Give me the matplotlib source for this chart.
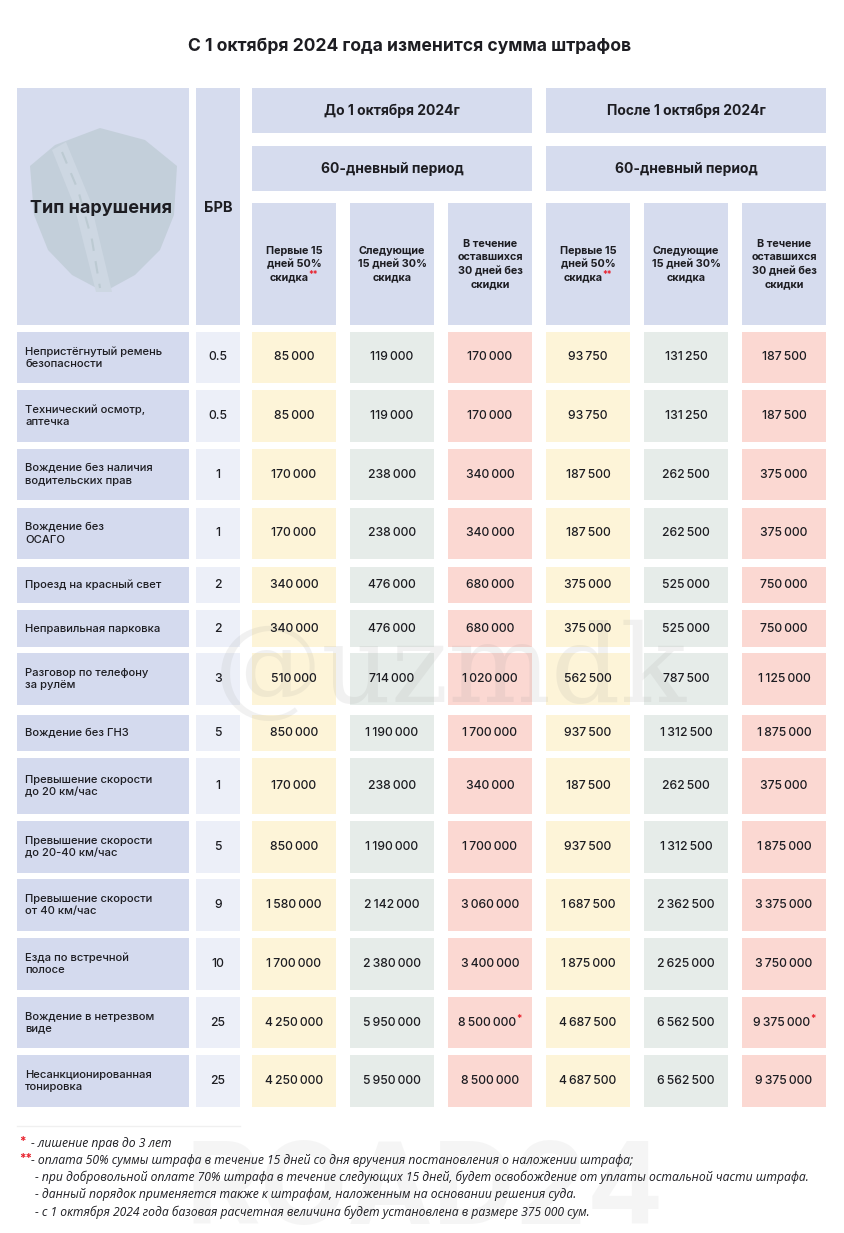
import matplotlib.pyplot as plt
from matplotlib.patches import Rectangle, Polygon

plt.rcParams['font.family'] = ['Inter', 'DejaVu Sans']

# ---- data ----
violations = [
    "Непристёгнутый ремень\nбезопасности",
    "Технический осмотр,\nаптечка",
    "Вождение без наличия\nводительских прав",
    "Вождение без\nОСАГО",
    "Проезд на красный свет",
    "Неправильная парковка",
    "Разговор по телефону\nза рулём",
    "Вождение без ГНЗ",
    "Превышение скорости\nдо 20 км/час",
    "Превышение скорости\nдо 20-40 км/час",
    "Превышение скорости\nот 40 км/час",
    "Езда по встречной\nполосе",
    "Вождение в нетрезвом\nвиде",
    "Несанкционированная\nтонировка",
]
brv = ["0.5", "0.5", "1", "1", "2", "2", "3", "5", "1", "5", "9", "10", "25", "25"]

before_15 = [85000, 85000, 170000, 170000, 340000, 340000, 510000, 850000,
             170000, 850000, 1580000, 1700000, 4250000, 4250000]
before_30 = [119000, 119000, 238000, 238000, 476000, 476000, 714000, 1190000,
             238000, 1190000, 2142000, 2380000, 5950000, 5950000]
before_full = [170000, 170000, 340000, 340000, 680000, 680000, 1020000, 1700000,
               340000, 1700000, 3060000, 3400000, 8500000, 8500000]
after_15 = [93750, 93750, 187500, 187500, 375000, 375000, 562500, 937500,
            187500, 937500, 1687500, 1875000, 4687500, 4687500]
after_30 = [131250, 131250, 262500, 262500, 525000, 525000, 787500, 1312500,
            262500, 1312500, 2362500, 2625000, 6562500, 6562500]
after_full = [187500, 187500, 375000, 375000, 750000, 750000, 1125000, 1875000,
              375000, 1875000, 3375000, 3750000, 9375000, 9375000]
# rows where the full fine carries the "*" mark (licence suspension)
starred = [False] * 12 + [True, False]

title = "С 1 октября 2024 года изменится сумма штрафов"
period_labels = ["До 1 октября 2024г", "После 1 октября 2024г"]
period_sub = "60-дневный период"
sub_labels = ["Первые 15\nдней 50%\nскидка", "Следующие\n15 дней 30%\nскидка",
              "В течение\nоставшихся\n30 дней без\nскидки"]
sub_marks = ["**", "", ""]
footnotes = [
    ("*", "- лишение прав до 3 лет"),
    ("**", "- оплата 50% суммы штрафа в течение 15 дней со дня вручения постановления о наложении штрафа;"),
    ("", "- при добровольной оплате 70% штрафа в течение следующих 15 дней, будет освобождение от уплаты остальной части штрафа."),
    ("", "- данный порядок применяется также к штрафам, наложенным на основании решения суда."),
    ("", "- с 1 октября 2024 года базовая расчетная величина будет установлена в размере 375 000 сум."),
]

# ---- layout ----
W, H = 844, 1233
col_l = [17, 196, 252, 350, 448, 546, 644, 742]
col_r = [189, 240, 336, 434, 532, 630, 728, 826]
row_top = [332, 390, 449, 508, 567, 610, 653, 715, 758, 821, 879, 938, 997, 1055]
row_bot = [383, 442, 500, 559, 603, 647, 705, 751, 814, 873, 931, 990, 1048, 1107]
hdr = [(88, 133), (146, 191), (203, 325)]

c_head = "#d6dcee"
c_type = "#d4daee"
c_brv = "#eceff8"
c_cols = ["#fdf4d8", "#e6ece9", "#fbd8d2"]
c_red = "#e8212c"
c_text = "#1d1d22"

fig = plt.figure(figsize=(W / 100, H / 100), dpi=100)
ax = fig.add_axes([0, 0, 1, 1])
ax.set_xlim(0, W)
ax.set_ylim(H, 0)
ax.axis("off")
renderer = fig.canvas.get_renderer()


def fmt(v):
    return f"{v:,}".replace(",", "\u2009")


def box(x0, x1, y0, y1, color):
    ax.add_patch(Rectangle((x0, y0), x1 - x0, y1 - y0, fc=color, ec="none", zorder=1))


def width_of(s, **kw):
    t = ax.text(0, 0, s, **kw)
    w = t.get_window_extent(renderer).width
    t.remove()
    return w


def two_part(cx, cy, main, mark, size, weight, va="center"):
    if not mark:
        ax.text(cx, cy, main, ha="center", va=va, fontsize=size, fontweight=weight,
                color=c_text, zorder=4)
        return
    w1 = width_of(main, fontsize=size, fontweight=weight)
    w2 = width_of(mark, fontsize=size * 0.8, fontweight="bold")
    x0 = cx - (w1 + w2) / 2
    ax.text(x0, cy, main, ha="left", va=va, fontsize=size, fontweight=weight,
            color=c_text, zorder=4)
    ax.text(x0 + w1, cy - 3, mark, ha="left", va=va, fontsize=size * 0.8,
            fontweight="bold", color=c_red, zorder=4)


ax.text(410, 47, title, ha="center", va="center", fontsize=12.6,
        fontweight="bold", color=c_text)

# header cells
box(col_l[0], col_r[0], hdr[0][0], hdr[2][1], c_head)
box(col_l[1], col_r[1], hdr[0][0], hdr[2][1], c_head)
# faint shield logo behind the header
ax.add_patch(Polygon([(30, 166), (55, 145), (100, 128), (145, 140), (177, 166),
                      (174, 215), (160, 250), (135, 275), (104, 292), (72, 275),
                      (48, 250), (34, 215)],
                     closed=True, fc="#bccad2", ec="none", alpha=0.7, zorder=2))
ax.add_patch(Polygon([(52, 150), (66, 142), (90, 200), (112, 292), (96, 292),
                      (74, 205)],
                     closed=True, fc="#cdd7e2", ec="none", zorder=2))
ax.plot([62, 78, 92, 100], [152, 190, 240, 288], color="#bccad2", lw=1.5,
        dashes=(6, 5), zorder=2)
ax.text(col_l[0] + (col_r[0] - col_l[0]) / 2 - 2, 208, "Тип нарушения", ha="center",
        va="center", fontsize=13, fontweight="bold", color=c_text, zorder=4)
ax.text((col_l[1] + col_r[1]) / 2, 208, "БРВ", ha="center", va="center",
        fontsize=10.5, fontweight="bold", color=c_text, zorder=4)

for p, lab in enumerate(period_labels):
    x0, x1 = col_l[2 + 3 * p], col_r[4 + 3 * p]
    box(x0, x1, *hdr[0], c_head)
    ax.text((x0 + x1) / 2, sum(hdr[0]) / 2, lab, ha="center", va="center",
            fontsize=10, fontweight="bold", color=c_text, zorder=4)
    box(x0, x1, *hdr[1], c_head)
    ax.text((x0 + x1) / 2, sum(hdr[1]) / 2, period_sub, ha="center", va="center",
            fontsize=10, fontweight="bold", color=c_text, zorder=4)
    for k, sl in enumerate(sub_labels):
        c = 2 + 3 * p + k
        box(col_l[c], col_r[c], *hdr[2], c_head)
        cx = (col_l[c] + col_r[c]) / 2
        lines = sl.split("\n")
        n = len(lines)
        for i, ln in enumerate(lines):
            y = sum(hdr[2]) / 2 + (i - (n - 1) / 2) * 13.5
            two_part(cx, y, ln, sub_marks[k] if i == n - 1 else "", 7.8, "bold")

# body
value_cols = [before_15, before_30, before_full, after_15, after_30, after_full]
for r in range(len(violations)):
    y0, y1 = row_top[r], row_bot[r]
    cy = (y0 + y1) / 2
    box(col_l[0], col_r[0], y0, y1, c_type)
    ax.text(25, cy, violations[r], ha="left", va="center", fontsize=8.1,
            fontweight="medium", color=c_text, linespacing=1.25, zorder=4)
    box(col_l[1], col_r[1], y0, y1, c_brv)
    ax.text((col_l[1] + col_r[1]) / 2, cy, brv[r], ha="center", va="center",
            fontsize=8.8, fontweight="medium", color=c_text, zorder=4)
    for j, vals in enumerate(value_cols):
        c = 2 + j
        box(col_l[c], col_r[c], y0, y1, c_cols[j % 3])
        mark = "*" if (j % 3 == 2 and starred[r]) else ""
        two_part((col_l[c] + col_r[c]) / 2, cy, fmt(vals[r]), mark, 8.8, "medium")

# watermarks
ax.text(450, 672, "@uzmdk", ha="center", va="center", fontsize=78,
        family="DejaVu Serif", color="#9a9a9a", alpha=0.13, zorder=3)
ax.text(425, 1224, "ROAD24", ha="center", va="baseline", fontsize=82,
        fontweight="bold", color="#8a8a8a", alpha=0.08, zorder=0)

ax.plot([17, 240], [1126, 1126], color="#f0f0f0", lw=1, zorder=1)

# footnotes
for i, (mk, txt) in enumerate(footnotes):
    y = 1143 + i * 17.3
    if mk:
        ax.text(19, y - 1, mk, ha="left", va="center", fontsize=8.5, fontweight="bold",
                color=c_red, zorder=4)
    ax.text(31 if i < 2 else 35, y, txt, ha="left", va="center", fontsize=8.7,
            style="italic", family=["Open Sans", "DejaVu Sans"], color=c_text, zorder=4)

fig.savefig("out.png", dpi=100)
